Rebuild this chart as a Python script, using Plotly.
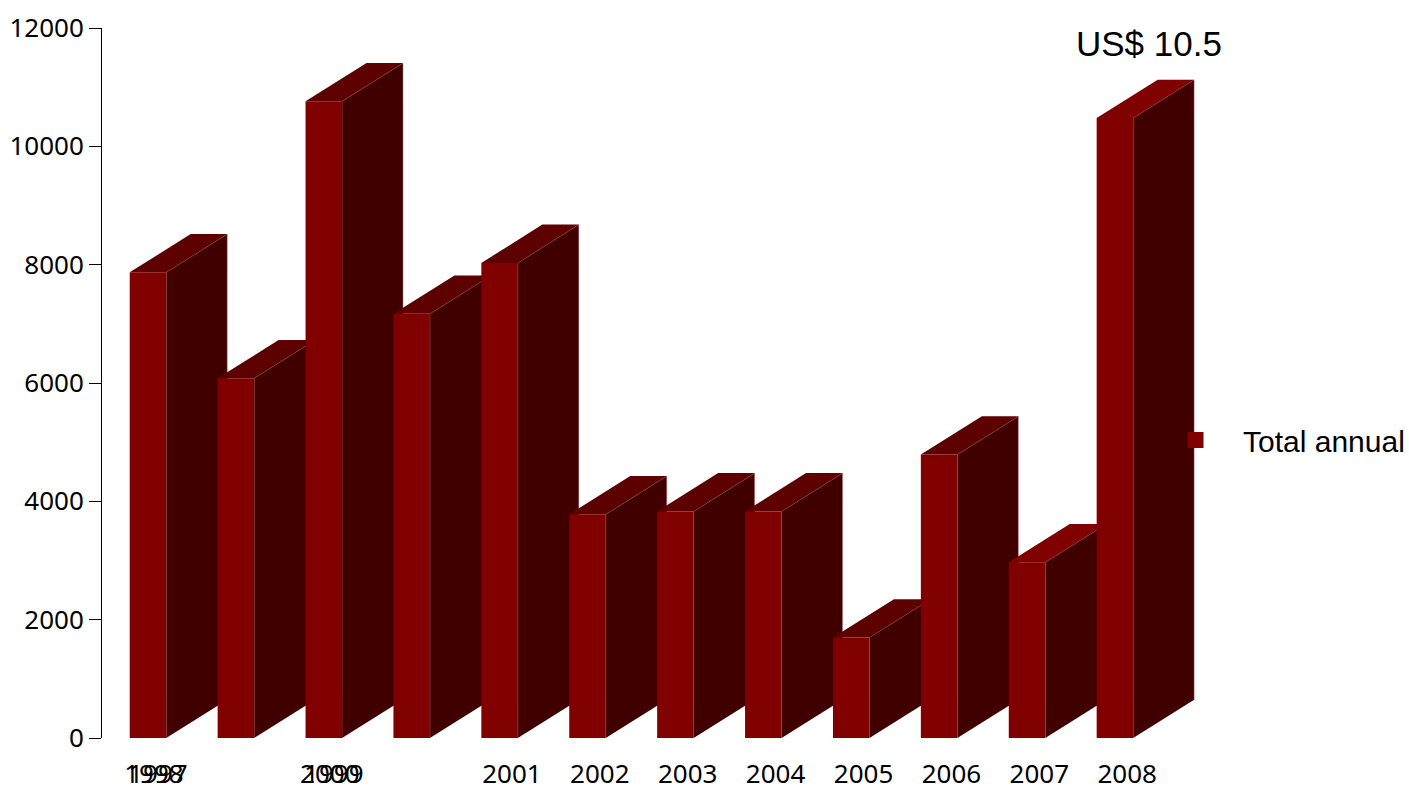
import plotly.graph_objects as go

# ---- data ----
bar_values = [7870, 6080, 10760, 7170, 8030, 3780, 3830, 3830, 1700, 4790, 2970, 10480]
tick_labels = ["1998", "1997", "2000", "1999", "2001", "2002", "2003",
               "2004", "2005", "2006", "2007", "2008"]
tick_bar_index = [0, 0, 2, 2, 4, 5, 6, 7, 8, 9, 10, 11]
series_name = "Total annual"
note_text = "US$ 10.5"
y_ticks = [0, 2000, 4000, 6000, 8000, 10000, 12000]
y_tick_text = ["0", "2000", "4000", "6000", "8000", "10000", "12000"]

# ---- styles / geometry ----
FRONT = "#800000"
SIDE = "#400000"
TOP_DEFAULT = "#5c0000"
top_colors = [TOP_DEFAULT] * 10 + [FRONT, FRONT]
EDGE = "rgba(200,120,120,0.55)"
bar_w = 0.415          # front face width (x units)
depth_x = 0.694        # 3D depth offset (x units)
depth_y = 647          # 3D depth offset (y units)
tick_offsets = [0.068, 0.114, 0.068, 0.114] + [0.14] * 8

fig = go.Figure()
for i, v in enumerate(bar_values):
    xl = i - bar_w / 2
    xr = i + bar_w / 2
    # side face
    fig.add_trace(go.Scatter(
        x=[xr, xr, xr + depth_x, xr + depth_x],
        y=[0, v, v + depth_y, depth_y],
        fill="toself", fillcolor=SIDE, mode="lines",
        line=dict(color=EDGE, width=0.8),
        showlegend=False, hoverinfo="skip"))
    # top face
    fig.add_trace(go.Scatter(
        x=[xl, xr, xr + depth_x, xl + depth_x, xl],
        y=[v, v, v + depth_y, v + depth_y, v],
        fill="toself", fillcolor=top_colors[i], mode="lines",
        line=dict(width=0),
        showlegend=False, hoverinfo="skip"))
    # front face
    fig.add_trace(go.Scatter(
        x=[xl, xr, xr, xl, xl],
        y=[0, 0, v, v, 0],
        fill="toself", fillcolor=FRONT, mode="lines",
        line=dict(width=0),
        showlegend=False, hoverinfo="text", text=str(v)))

# legend entry
fig.add_trace(go.Scatter(
    x=[None], y=[None], mode="markers", name=series_name,
    marker=dict(symbol="square", size=20, color=FRONT), showlegend=True))

tickvals = [b + o for b, o in zip(tick_bar_index, tick_offsets)]

fig.update_layout(
    width=1409, height=788,
    margin=dict(l=102, r=209, t=28, b=50, autoexpand=False),
    paper_bgcolor="white", plot_bgcolor="white",
    showlegend=True,
    legend=dict(x=(1148 - 102) / 1098, y=(738 - 440) / 710, xanchor="left", yanchor="middle",
                font=dict(family="Liberation Sans, Arial", size=30, color="#000000"),
                bgcolor="rgba(0,0,0,0)", itemwidth=85),
    xaxis=dict(range=[-0.523, 11.968], showgrid=False, zeroline=False, showline=False,
               tickmode="array", tickvals=tickvals, ticktext=tick_labels,
               ticks="", ticklabelstandoff=18, tickangle=0, automargin=False,
               tickfont=dict(family="Noto Sans", size=26, color="#000000"),
               fixedrange=True),
    yaxis=dict(range=[0, 12000], tickmode="array", tickvals=y_ticks, ticktext=y_tick_text,
               showgrid=False, zeroline=False, showline=True, linecolor="#000000",
               linewidth=1, ticks="outside", ticklen=12, tickcolor="#000000",
               automargin=False,
               tickfont=dict(family="Noto Sans", size=26, color="#000000"),
               fixedrange=True),
    annotations=[dict(text=note_text, xref="paper", yref="paper",
                      x=(1149 - 102) / 1098, y=(738 - 44) / 710,
                      xanchor="center", yanchor="middle", showarrow=False,
                      font=dict(family="Liberation Sans, Arial", size=35, color="#000000"))],
)

fig.write_html("out.html")
